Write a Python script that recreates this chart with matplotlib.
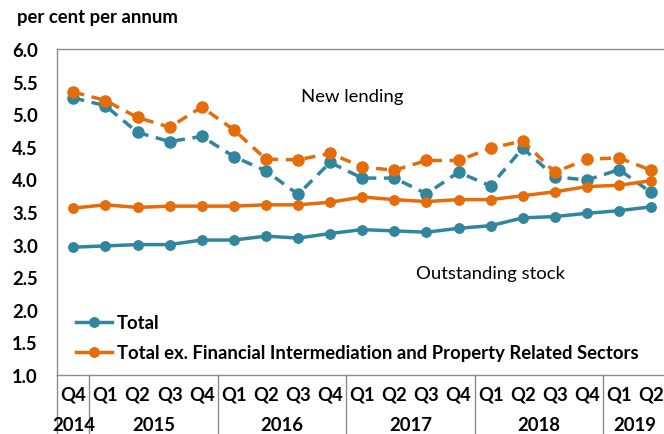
import matplotlib
matplotlib.use("Agg")
import matplotlib.pyplot as plt
from matplotlib.lines import Line2D
import matplotlib.transforms as mtransforms

plt.rcParams['font.family'] = ['Lato', 'DejaVu Sans']

quarters = ["Q4", "Q1", "Q2", "Q3", "Q4", "Q1", "Q2", "Q3", "Q4", "Q1", "Q2", "Q3", "Q4",
            "Q1", "Q2", "Q3", "Q4", "Q1", "Q2"]
years = ["2014", "2015", "2016", "2017", "2018", "2019"]
year_counts = [1, 4, 4, 4, 4, 2]

new_total = [5.25, 5.13, 4.72, 4.58, 4.66, 4.35, 4.13, 3.77, 4.26, 4.02, 4.02, 3.78, 4.11,
             3.90, 4.48, 4.04, 3.99, 4.15, 3.80]
new_ex = [5.34, 5.21, 4.95, 4.80, 5.11, 4.76, 4.31, 4.30, 4.40, 4.19, 4.14, 4.29, 4.29,
          4.48, 4.59, 4.11, 4.31, 4.33, 4.14]
stock_total = [2.96, 2.98, 3.00, 3.00, 3.07, 3.07, 3.13, 3.10, 3.17, 3.23, 3.21, 3.19, 3.25,
               3.29, 3.41, 3.43, 3.48, 3.52, 3.58]
stock_ex = [3.56, 3.61, 3.57, 3.59, 3.59, 3.59, 3.61, 3.61, 3.65, 3.73, 3.69, 3.66, 3.69,
            3.69, 3.75, 3.81, 3.89, 3.91, 3.98]

teal = "#31859C"
orange = "#E46C0A"
grey = "#8C8C8C"
fs = 13.3

fig = plt.figure(figsize=(6.64, 4.35), dpi=100)
ax = fig.add_axes([57.3 / 664, 59 / 435, 609.9 / 664, 326 / 435])

x = list(range(len(quarters)))
ax.plot(x, new_total, color=teal, lw=2.5, ls=(0, (3.2, 2.2)), marker='o', ms=8, zorder=3)
ax.plot(x, new_ex, color=orange, lw=2.5, ls=(0, (3.2, 2.2)), marker='o', ms=8, zorder=3)
ax.plot(x, stock_total, color=teal, lw=2.5, marker='o', ms=6.8, zorder=4)
ax.plot(x, stock_ex, color=orange, lw=2.5, marker='o', ms=6.8, zorder=4)

ax.set_xlim(-0.5, len(quarters) - 0.5)
ax.set_ylim(1.0, 6.0)
ax.set_yticks([1.0, 1.5, 2.0, 2.5, 3.0, 3.5, 4.0, 4.5, 5.0, 5.5, 6.0])
ax.set_yticklabels([f"{v:.1f}" for v in ax.get_yticks()], fontsize=fs, fontweight='bold')
ax.tick_params(axis='y', length=0, pad=14)
ax.set_xticks([])
for s in ['left', 'top', 'bottom', 'right']:
    ax.spines[s].set_color(grey)
    ax.spines[s].set_linewidth(1.0)

trans = mtransforms.blended_transform_factory(ax.transData, ax.transAxes)
# quarter labels
for i, q in enumerate(quarters):
    ax.text(i, -0.058, q, transform=trans, ha='center', va='center', fontsize=fs, fontweight='bold')
# year group dividers and labels
start = -0.5
bounds = [start]
for y, c in zip(years, year_counts):
    end = start + c
    ax.text((start + end) / 2, -0.152, y, transform=trans, ha='center', va='center',
            fontsize=fs, fontweight='bold')
    bounds.append(end)
    start = end
for b in bounds:
    ax.plot([b, b], [0, -0.25], transform=trans, color=grey, lw=1.0, clip_on=False)

ax.text(8.68, 5.28, "New lending", ha='center', va='center', fontsize=fs)
ax.text(12.98, 2.57, "Outstanding stock", ha='center', va='center', fontsize=fs)

fig.text(17 / 664, 1 - 18 / 435, "per cent per annum", ha='left', va='center',
         fontsize=fs, fontweight='bold')

handles = [Line2D([], [], color=teal, lw=2.5, marker='o', ms=6.8),
           Line2D([], [], color=orange, lw=2.5, marker='o', ms=6.8)]
labels = ["Total", "Total ex. Financial Intermediation and Property Related Sectors"]
leg = ax.legend(handles, labels, loc='upper left', bbox_to_anchor=(76 / 664, 1 - 315 / 435),
                bbox_transform=fig.transFigure, frameon=False, handlelength=1.95,
                handletextpad=0.27, labelspacing=0.72, borderaxespad=0, borderpad=0,
                prop={'weight': 'bold', 'size': fs})

fig.savefig("out.png", dpi=100)
